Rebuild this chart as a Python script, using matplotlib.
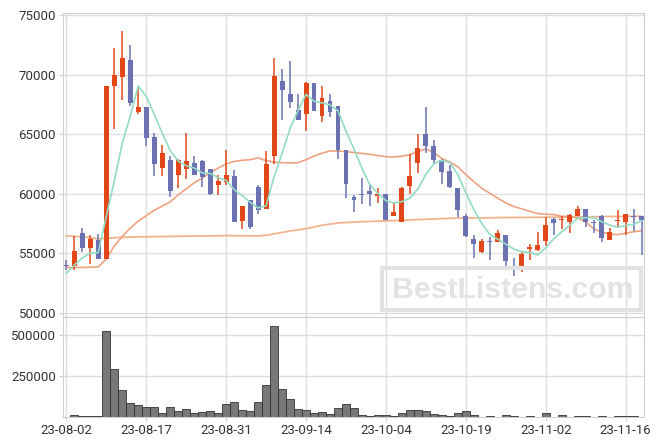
import numpy as np
import matplotlib.pyplot as plt
from matplotlib.patches import FancyBboxPatch

plt.rcParams['font.family'] = ['Roboto', 'DejaVu Sans']

# daily candles, one per trading day
opens = [54000, 53900, 56700, 55450, 56100, 54550, 69000, 69800, 71200, 66850,
         67250, 64750, 62150, 62850, 61550, 62100, 62550, 62700, 62050, 60750,
         60950, 61450, 57700, 59450, 60550, 58750, 63150, 69500, 68350, 67000,
         66650, 69300, 66550, 67800, 67350, 63700, 59750, 60000, 60250, 59800,
         60000, 58150, 57600, 60650, 62550, 65050, 64000, 62850, 61900, 60450,
         58150, 56200, 55100, 56000, 55900, 56550, 53950, 53750, 55350, 55300,
         56050, 57900, 57750, 57650, 58150, 58700, 57650, 58150, 56100, 57700,
         57600, 58100, 58100]
highs = [54400, 56450, 57100, 56500, 56600, 69000, 72250, 73700, 72500, 68900,
         67250, 65100, 64100, 63150, 62900, 65100, 63150, 62850, 62050, 61550,
         63700, 62000, 58950, 59450, 60750, 63600, 71350, 70450, 71100, 68400,
         69350, 69300, 69050, 68400, 67350, 63700, 59900, 61300, 60800, 60450,
         60000, 59300, 60550, 63300, 65000, 67300, 64500, 62900, 62400, 60500,
         58300, 56500, 56150, 56350, 56950, 56550, 54600, 55100, 55800, 56800,
         58050, 57950, 58100, 58300, 59000, 58750, 57750, 58200, 57100, 58600,
         58300, 58700, 58100]
lows = [53550, 53550, 55100, 54050, 54550, 54500, 65400, 67900, 67400, 66700,
        64000, 61500, 61500, 59700, 60500, 61250, 61550, 60550, 59900, 59900,
        60750, 57600, 57000, 57050, 58300, 58700, 62450, 66150, 67150, 66150,
        65250, 66950, 66000, 66400, 62900, 59650, 58450, 59150, 59000, 59200,
        57750, 58100, 57600, 60000, 61750, 63400, 62600, 60800, 60500, 58000,
        56400, 54600, 55050, 54450, 55900, 53750, 53050, 53400, 54400, 55200,
        55600, 56550, 57050, 56700, 58100, 57200, 56700, 55900, 56100, 57200,
        56550, 56900, 54850]
closes = [53900, 55150, 55450, 56200, 54550, 69000, 70000, 71350, 67600, 67250,
          64700, 62450, 63450, 60250, 62850, 62700, 61550, 61400, 60000, 61050,
          61600, 57600, 58950, 57200, 58650, 62450, 69850, 68700, 67700, 66150,
          69300, 66950, 68000, 66850, 63650, 60800, 59450, 59850, 59950, 60000,
          57800, 58450, 60450, 61450, 63800, 64000, 62850, 61850, 60550, 58650,
          56450, 55800, 56000, 55950, 56700, 54350, 53750, 54900, 55550, 55700,
          57400, 57500, 57900, 58200, 58700, 57600, 57500, 56250, 56750, 57800,
          58300, 58000, 57800]
volumes = [3000, 12000, 7000, 7000, 7000, 524000, 293000, 165000, 87000, 73000,
           61000, 61000, 24000, 61000, 37000, 49000, 24000, 30000, 37000, 24000,
           79000, 91000, 43000, 37000, 91000, 195000, 555000, 171000, 110000, 49000,
           43000, 24000, 30000, 18000, 55000, 79000, 55000, 12000, 6000, 12000,
           12000, 6000, 24000, 43000, 43000, 37000, 18000, 12000, 6000, 24000,
           37000, 12000, 2000, 6000, 2000, 12000, 6000, 2000, 6000, 2000,
           24000, 2000, 12000, 2000, 6000, 6000, 2000, 6000, 0, 6000,
           6000, 6000, 2000]

# moving averages
ma_short = [53300, 54000, 54600, 55000, 55050, 58070, 61040, 64220, 66500, 69040,
            68180, 66670, 65090, 63620, 62740, 62340, 62160, 61750, 61700, 61340,
            61120, 60330, 59840, 59280, 58800, 58970, 61420, 63370, 65470, 66970,
            68340, 67760, 67620, 67450, 66950, 65250, 63750, 62120, 60740, 60010,
            59410, 59210, 59330, 59630, 60390, 61630, 62510, 62790, 62610, 61580,
            60070, 58660, 57490, 56570, 56180, 55760, 55350, 55130, 55050, 54850,
            55460, 56210, 56810, 57340, 57940, 57980, 57980, 57650, 57360, 57180,
            57320, 57420, 57730]
ma_mid = [53800, 53790, 53800, 53820, 53850, 54500, 55600, 56400, 57100, 57700,
          58150, 58600, 58950, 59300, 59900, 60400, 60900, 61300, 61750, 62150,
          62500, 62700, 62800, 62850, 63000, 62780, 62650, 62600, 62580, 62600,
          62850, 63150, 63400, 63580, 63580, 63530, 63450, 63380, 63300, 63200,
          63100, 63080, 63150, 63280, 63550, 63750, 63450, 62950, 62650, 62250,
          61600, 61000, 60450, 60030, 59620, 59220, 58920, 58720, 58520, 58320,
          58270, 58240, 58100, 58070, 57950, 57600, 57050, 56770, 56600, 56560,
          56680, 56800, 56880]
ma_long = [56450, 56420, 56380, 56300, 56200, 56250, 56300, 56330, 56350, 56370,
           56380, 56390, 56400, 56410, 56420, 56430, 56440, 56440, 56450, 56460,
           56480, 56470, 56460, 56450, 56450, 56500, 56620, 56740, 56860, 56960,
           57060, 57200, 57340, 57440, 57530, 57580, 57600, 57640, 57670, 57690,
           57710, 57740, 57760, 57790, 57820, 57840, 57870, 57900, 57930, 57940,
           57950, 57960, 57960, 57970, 57990, 57990, 58000, 58000, 58010, 58010,
           58020, 58020, 58030, 58040, 58040, 58050, 58060, 58070, 58080, 58080,
           58090, 58100, 58100]

tick_pos = [0, 10, 20, 30, 40, 50, 60, 70]
tick_labels = ['23-08-02', '23-08-17', '23-08-31', '23-09-14',
               '23-10-04', '23-10-19', '23-11-02', '23-11-16']

UP = '#e2471a'
DOWN = '#6b72b3'
GRID = '#dedede'

fig = plt.figure(figsize=(6.63, 4.47), dpi=100)
ax = fig.add_axes([63 / 663, 130 / 447, 581 / 663, 304 / 447])
axv = fig.add_axes([63 / 663, 30 / 447, 581 / 663, 100 / 447], sharex=ax)

x = np.arange(len(closes))
o = np.array(opens)
c = np.array(closes)
cols = [UP if cc > oo else DOWN for oo, cc in zip(o, c)]

ax.plot(x, ma_long, color='#f2b48f', lw=1.3, zorder=2)
ax.plot(x, ma_mid, color='#eea27f', lw=1.2, zorder=2)
ax.plot(x, ma_short, color='#93dcc4', lw=1.2, zorder=4)

ax.vlines(x, lows, highs, colors=cols, lw=1.1, zorder=3)
body = np.maximum(np.abs(c - o), 60)
ax.bar(x, body, bottom=np.minimum(o, c), width=0.62, color=cols, zorder=3)

ax.set_ylim(49640, 75170)
ax.set_yticks(np.arange(50000, 75001, 5000))
ax.set_xlim(-0.41, 72.29)

axv.bar(x, volumes, width=1.0, color='#787878', edgecolor='#333333', lw=0.6, zorder=3)
axv.set_ylim(0, 610000)
axv.set_yticks([250000, 500000])
axv.set_xticks(tick_pos)
axv.set_xticklabels(tick_labels)

for a in (ax, axv):
    a.grid(True, color=GRID, lw=1.0, zorder=0)
    a.set_axisbelow(True)
    for s in a.spines.values():
        s.set_color('#cfcfcf')
    a.tick_params(length=3, color='#cfcfcf', labelcolor='#333333', labelsize=9.5, pad=2)
ax.tick_params(axis='x', labelbottom=False)

# watermark box
fig.patches.append(FancyBboxPatch((382 / 663, 1 - 310 / 447), 259 / 663, 42 / 447,
                                  boxstyle='square,pad=0', transform=fig.transFigure,
                                  fill=False, edgecolor='#e2e2e2', lw=3, zorder=5))
fig.text(512.5 / 663, 1 - 290 / 447, 'BestListens.com', ha='center', va='center',
         fontsize=21.8, fontweight='bold', color='#e3e3e3', zorder=6,
         family='Liberation Sans')

fig.savefig('out.png', dpi=100)
